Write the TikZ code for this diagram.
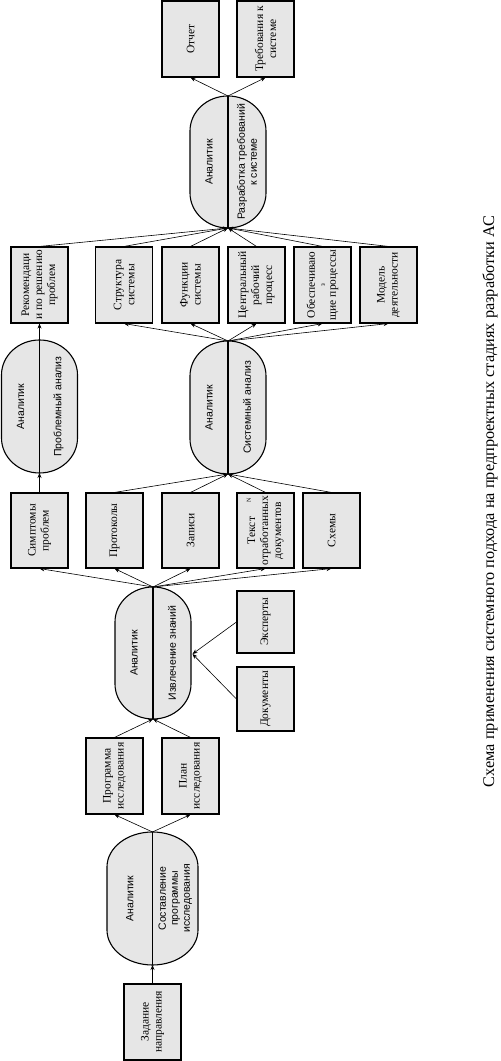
\documentclass[tikz,border=0pt]{standalone}
\usepackage{fontspec}
\setmainfont{Liberation Serif}
\newfontfamily\sansf{Liberation Sans}
\usetikzlibrary{arrows.meta}
\definecolor{boxfill}{RGB}{230,230,230}
\tikzset{
 box/.style={draw, line width=1.1pt, fill=boxfill, rotate=90, minimum width=76pt, minimum height=57pt, inner sep=1pt, align=center, font=\fontsize{11.5}{13}\selectfont},
 stad/.style={draw, line width=1.1pt, fill=boxfill},
 stext/.style={rotate=90, align=center, inner sep=0pt, font=\sansf\fontsize{10.5}{12}\selectfont},
 arr/.style={line width=0.6pt, -{Stealth[length=5pt,width=4pt]}},
}
\newcommand\stadium[7]{%
 \draw[stad] ({#2-#5},{#3-35}) arc[start angle=180,end angle=0,x radius=#5pt,y radius=35pt] -- ({#2+#5},{#4+35}) arc[start angle=0,end angle=-180,x radius=#5pt,y radius=35pt] -- cycle;
 \coordinate (#1t) at (#2,#3);
 \coordinate (#1b) at (#2,#4);
 \draw[line width=1.1pt] (#1t) -- (#1b);
 \node[stext] (#1l) at ({#2-#5/2},{(#3+#4)/2}) {#6};
 \node[stext] (#1r) at ({#2+#5/2},{(#3+#4)/2}) {#7};
}
\begin{document}
\begin{tikzpicture}[x=1pt,y=1pt]
\useasboundingbox (0,0) rectangle (501,1061);

% stadiums
\stadium{sr}{228}{965}{833}{38}{Аналитик}{Разработка требований\\к системе}
\stadium{sp}{39.5}{721}{588}{38}{Аналитик}{Проблемный анализ}
\stadium{ss}{228}{720}{587}{38}{Аналитик}{Системный анализ}
\stadium{si}{153}{474}{342}{38}{Аналитик}{Извлечение знаний}
\stadium{sc}{152.5}{229}{96}{45.5}{Аналитик}{Составление\\программы\\исследования}

% top outputs
\node[box] (otch) at (190.5,1022) {Отчет};
\node[box] (treb) at (265.5,1022) {Требования к\\системе};

% row 2
\node[box] (rek) at (39.5,776) {Рекомендаци\\и по решению\\проблем};
\node[box] (str) at (124,776) {Структура\\системы};
\node[box] (fun) at (190.5,776) {Функции\\системы};
\node[box] (cen) at (256.5,776) {Центральный\\рабочий\\процесс};
\node[box] (obe) at (322.5,776) {Обеспечиваю\\[-3pt]{\fontsize{7}{7}\selectfont з}\\[-2pt]щие процессы};
\node[box] (mod) at (388.5,776) {Модель\\деятельности};

% row 3
\node[box, minimum width=75pt] (sim) at (39.5,530.5) {Симптомы\\проблем};
\node[box, minimum width=75pt] (pro) at (114.5,530.5) {Протоколы};
\node[box, minimum width=75pt] (zap) at (190.5,530.5) {Записи};
\node[box, minimum width=75pt] (tek) at (265.5,530.5) {Текст\\отработанных\\документов};
\node[rotate=90, inner sep=0pt, font=\fontsize{6}{6}\selectfont] (nmark) at (249,561) {N};
\node[box, minimum width=75pt] (skh) at (331.5,530.5) {Схемы};

% sources
\node[box, minimum width=62pt] (eks) at (265.5,439) {Эксперты};
\node[box, minimum width=64pt] (dok) at (265.5,362) {Документы};
\coordinate (sie) at (192.5,407);

% program / plan
\node[box] (prg) at (114.5,285) {Программа\\исследования};
\node[box] (pln) at (190.5,285) {План\\исследования};

% start
\node[box] (zad) at (152.5,39) {Задание\\направления};

% caption
\node[rotate=90, inner sep=0pt, font=\fontsize{16.3}{18}\selectfont] (cap) at (490,559.5) {Схема применения системного подхода на предпроектных стадиях разработки АС};

% connectors
\draw[arr] (zad.east) -- (scb);
\draw[arr] (sct) -- (prg.west);
\draw[arr] (sct) -- (pln.west);
\draw[arr] (prg.east) -- (sib);
\draw[arr] (pln.east) -- (sib);
\draw[arr] (eks.north) -- (sie);
\draw[arr] (dok.north) -- (sie);
\foreach \b in {sim,pro,zap,tek,skh} \draw[arr] (sit) -- (\b.west);
\draw[arr] (sim.east) -- (spb);
\foreach \b in {pro,zap,tek,skh} \draw[arr] (\b.east) -- (ssb);
\draw[arr] (spt) -- (rek.west);
\foreach \b in {str,fun,cen,obe,mod} \draw[arr] (sst) -- (\b.west);
\foreach \b in {rek,str,fun,cen,obe,mod} \draw[arr] (\b.east) -- (srb);
\draw[arr] (srt) -- (otch.west);
\draw[arr] (srt) -- (treb.west);
\end{tikzpicture}
\end{document}
